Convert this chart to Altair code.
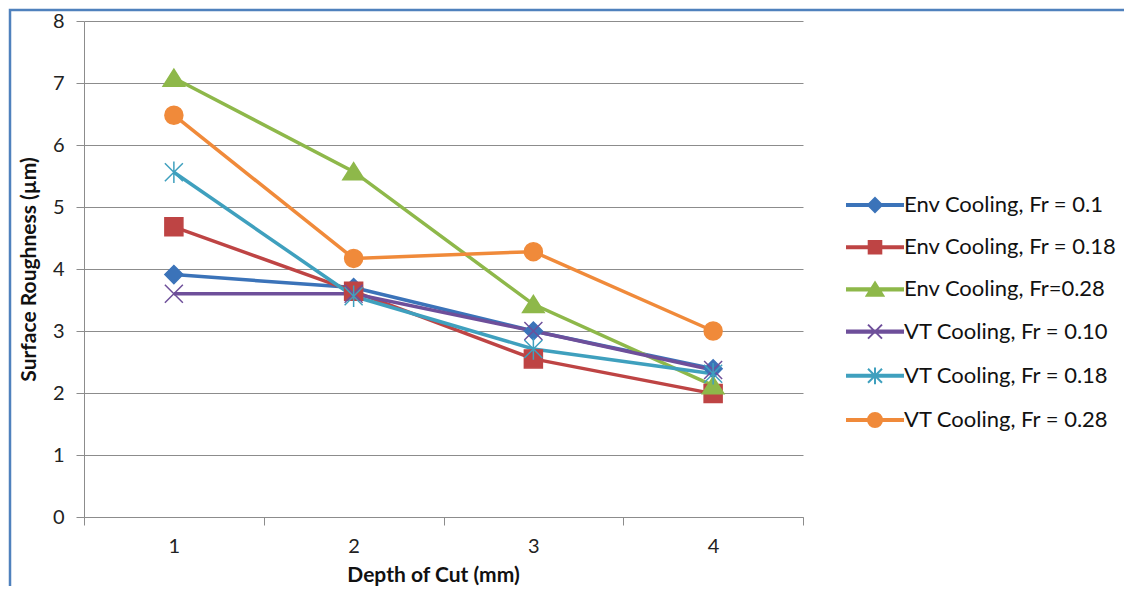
import altair as alt
import pandas as pd

# ---- data ----
depth = [1, 2, 3, 4]
series_names = [
    "Env Cooling, Fr = 0.1",
    "Env Cooling, Fr = 0.18",
    "Env Cooling, Fr=0.28",
    "VT Cooling, Fr = 0.10",
    "VT Cooling, Fr = 0.18",
    "VT Cooling, Fr = 0.28",
]
env_010 = [3.91, 3.70, 3.00, 2.39]
env_018 = [4.68, 3.64, 2.55, 1.99]
env_028 = [7.08, 5.57, 3.43, 2.12]
vt_010 = [3.60, 3.60, 3.00, 2.37]
vt_018 = [5.56, 3.56, 2.71, 2.31]
vt_028 = [6.48, 4.17, 4.28, 3.00]
y_ticks = [0, 1, 2, 3, 4, 5, 6, 7, 8]
x_ticks = [0.5, 1, 1.5, 2, 2.5, 3, 3.5, 4, 4.5]

colors = ["#3B73B9", "#BE4444", "#8EB84A", "#6E4F9A", "#3FA0BE", "#F08A3A"]

all_series = [env_010, env_018, env_028, vt_010, vt_018, vt_028]
rows = []
for name, vals in zip(series_names, all_series):
    for d, v in zip(depth, vals):
        rows.append({"series": name, "depth": d, "value": v})
df = pd.DataFrame(rows)

# marker shapes (unit space [-1, 1])
marker_paths = [
    "M0,-1L1,0L0,1L-1,0Z",                      # diamond
    "M-1,-1H1V1H-1Z",                           # square
    "M0,-1L1.2,0.9H-1.2Z",                      # triangle
    "M-1,-1L1,1M-1,1L1,-1",                     # x
    "M-1,-1L1,1M-1,1L1,-1M0,-1.2V1.2",          # asterisk
    "circle",                                   # circle
]
line_part = "M-4,-0.15H4V0.15H-4Z "
legend_paths = [
    line_part + "M0,-1L1,0L0,1L-1,0Z",
    line_part + "M-0.9,-0.9H0.9V0.9H-0.9Z",
    line_part + "M0,-1L1.2,0.9H-1.2Z",
    line_part + "M-1,-1L1,1M-1,1L1,-1",
    line_part + "M-1,-1L1,1M-1,1L1,-1M0,-1.2V1.2",
    line_part + "M-1,0A1,1 0 1,0 1,0A1,1 0 1,0 -1,0Z",
]
stroke_widths = [1.5, 1.5, 1.5, 2.2, 2.2, 1.5]

color_scale = alt.Scale(domain=series_names, range=colors)

x_enc = alt.X(
    "depth:Q",
    scale=alt.Scale(domain=[0.5, 4.5], nice=False, zero=False),
    axis=alt.Axis(
        values=x_ticks,
        labelExpr="datum.value % 1 === 0 ? format(datum.value, 'd') : ''",
        tickColor={"condition": {"test": "datum.value % 1 === 0", "value": "transparent"}, "value": "#8c8c8c"},
        grid=False,
        labelOverlap=False,
        labelFlush=False,
        tickSize=8,
        labelPadding=11,
        title="Depth of Cut (mm)",
        titlePadding=8,
        titleX=349,
    ),
)
y_enc = alt.Y(
    "value:Q",
    scale=alt.Scale(domain=[0, 8], nice=False),
    axis=alt.Axis(
        values=y_ticks,
        format="d",
        tickSize=8,
        labelPadding=12,
        title="Surface Roughness (µm)",
        titlePadding=13,
    ),
)

base = alt.Chart(df)

lines = base.mark_line(strokeWidth=3.5).encode(
    x=x_enc,
    y=y_enc,
    color=alt.Color("series:N", scale=color_scale, legend=None),
    detail="series:N",
)

points = base.mark_point(filled=True, size=324, opacity=1).encode(
    x="depth:Q",
    y="value:Q",
    color=alt.Color("series:N", scale=color_scale, legend=None),
    stroke=alt.Stroke("series:N", scale=alt.Scale(domain=series_names, range=colors), legend=None),
    shape=alt.Shape("series:N", scale=alt.Scale(domain=series_names, range=marker_paths), legend=None),
    strokeWidth=alt.StrokeWidth("series:N", scale=alt.Scale(domain=series_names, range=stroke_widths), legend=None),
)

legend_def = dict(
    orient="none",
    legendX=780,
    legendY=173,
    title=None,
    labelFont="Lato",
    labelFontSize=22,
    labelColor="#111111",
    labelLimit=400,
    symbolSize=196,
    symbolStrokeWidth=2,
    labelOffset=18,
    rowPadding=20.2,
    padding=0,
    symbolOpacity=1,
)

legend_layer = base.transform_filter("false").mark_point(filled=True, size=196, opacity=1).encode(
    x="depth:Q",
    y="value:Q",
    color=alt.Color("series:N", scale=color_scale, legend=alt.Legend(**legend_def)),
    stroke=alt.Stroke("series:N", scale=alt.Scale(domain=series_names, range=colors), legend=alt.Legend(**legend_def)),
    shape=alt.Shape("series:N", scale=alt.Scale(domain=series_names, range=legend_paths), legend=alt.Legend(**legend_def)),
)

frame = alt.Chart(pd.DataFrame({"k": [0]})).mark_rect(filled=False, stroke="#4F81BD", strokeWidth=2.5).encode(
    x=alt.value(-74), x2=alt.value(1200), y=alt.value(-11), y2=alt.value(800)
)

chart = (
    alt.layer(frame, lines, points, legend_layer)
    .resolve_scale(shape="independent", strokeWidth="independent")
    .resolve_legend(color="independent", stroke="independent", shape="independent", strokeWidth="independent")
    .properties(
        width=719,
        height=496,
        autosize=alt.AutoSizeParams(type="none"),
        padding={"left": 76, "top": 13, "right": 321, "bottom": 69},
        background="white",
    )
    .configure_view(stroke=None)
    .configure_axis(
        domainColor="#8c8c8c",
        tickColor="#8c8c8c",
        gridColor="#8c8c8c",
        labelFont="Lato",
        labelFontSize=20,
        labelColor="#222222",
        titleFont="Lato",
        titleFontSize=21,
        titleFontWeight="bold",
        titleColor="#111111",
    )
)

chart.save("out.html", embed_options={"renderer": "svg", "actions": False})
